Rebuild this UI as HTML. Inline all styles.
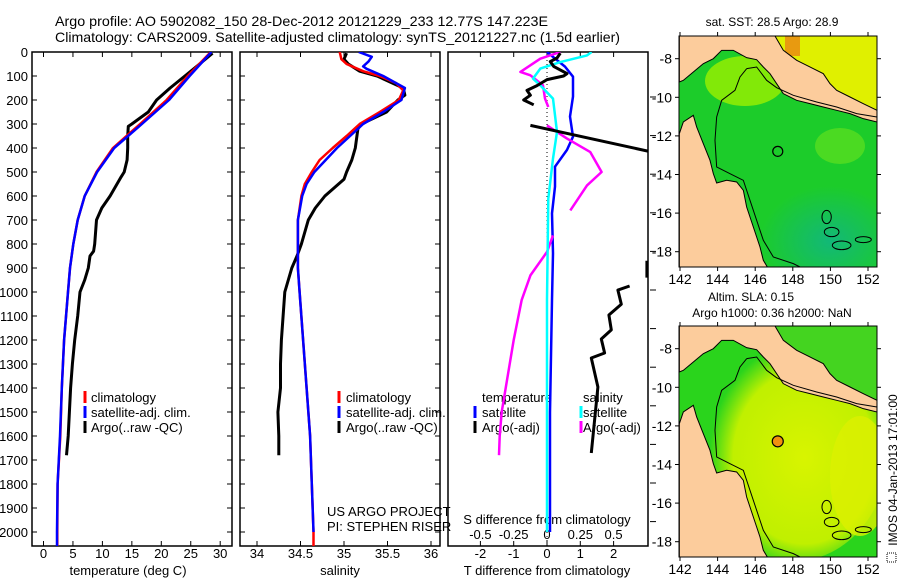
<!DOCTYPE html>
<html><head><meta charset="utf-8"><style>
html,body{margin:0;padding:0;background:#fff;}
svg{display:block;font-family:"Liberation Sans",sans-serif;}
</style></head><body>
<svg id="fig" width="900" height="580" viewBox="0 0 900 580" xmlns="http://www.w3.org/2000/svg">
<defs>
<clipPath id="c1"><rect x="32" y="52" width="200" height="494"/></clipPath>
<clipPath id="c2"><rect x="240" y="52" width="200" height="494"/></clipPath>
<clipPath id="c3"><rect x="448" y="52" width="200" height="494"/></clipPath>
<clipPath id="m1"><rect x="679" y="36" width="198" height="231"/></clipPath>
<clipPath id="m2"><rect x="679" y="326" width="198" height="231"/></clipPath>
<radialGradient id="g2" cx="0.55" cy="0.55" r="0.5"><stop offset="0" stop-color="#d8f400"/><stop offset="0.75" stop-color="#c0f000"/><stop offset="1" stop-color="#c0f000" stop-opacity="0"/></radialGradient>
<radialGradient id="g1" cx="0.5" cy="0.5" r="0.5"><stop offset="0" stop-color="#12b878"/><stop offset="1" stop-color="#12b878" stop-opacity="0"/></radialGradient>
</defs>
<g id="titles">
<text x="55" y="26" font-size="14" textLength="493" lengthAdjust="spacingAndGlyphs">Argo profile: AO 5902082_150 28-Dec-2012 20121229_233 12.77S 147.223E</text>
<text x="55" y="42" font-size="14" textLength="565" lengthAdjust="spacingAndGlyphs">Climatology: CARS2009. Satellite-adjusted climatology: synTS_20121227.nc (1.5d earlier)</text>
</g>
<g id="axes"></g>
<g id="series"></g>
<g id="maps"></g>
</svg>
<script>
// ---------- data ----------
const depthTicks = [0,100,200,300,400,500,600,700,800,900,1000,1100,1200,1300,1400,1500,1600,1700,1800,1900,2000];
const tempTicks = [0,5,10,15,20,25,30];
const salTicks = [34,34.5,35,35.5,36];
const salTickLabels = ["34","34.5","35","35.5","36"];
const dtTicks = [-2,-1,0,1,2];
const dsTicks = [-0.5,-0.25,0,0.25,0.5];
const dsTickLabels = ["-0.5","-0.25","0","0.25","0.5"];

const climDepth = [0,100,200,300,400,500,600,700,800,900,1000,1200,1400,1600,1800,2000,2060];
const climTemp  = [28.4,24.5,20.9,16.4,11.8,9.0,7.0,5.8,5.06,4.5,4.16,3.5,3.1,2.85,2.4,2.35,2.35];
const satTemp   = [28.5,24.8,21.3,16.7,12.0,9.1,7.0,5.8,5.06,4.5,4.16,3.5,3.1,2.8,2.4,2.3,2.3];

const argoTDepth = [5,50,100,150,200,250,300,310,350,400,450,500,520,600,650,700,800,830,850,900,950,1000,1100,1200,1300,1400,1500,1600,1680];
const argoTemp   = [28.7,26.5,24.0,21.5,19.2,17.8,15.0,14.4,14.3,14.3,14.2,13.7,13.2,11.3,9.9,9.0,8.7,8.5,7.9,7.6,7.0,6.2,5.8,5.3,4.9,4.6,4.4,4.2,3.9];

const salDepth = [0,30,50,80,100,130,160,200,250,300,350,400,450,500,550,600,700,800,900,1000,1400,1600,1800,2000,2060];
const climSal  = [34.95,34.97,35.03,35.22,35.41,35.6,35.68,35.63,35.41,35.18,35.03,34.87,34.72,34.63,34.55,34.51,34.47,34.47,34.47,34.49,34.57,34.61,34.63,34.65,34.65];
const satSalDepth = [0,20,40,60,70,100,150,200,250,300,400,500,550,600,700,800,900,1000,1400,1600,1800,2000];
const satSal      = [35.17,35.32,35.28,35.22,35.26,35.45,35.7,35.66,35.45,35.22,34.92,34.66,34.57,34.52,34.47,34.47,34.47,34.49,34.57,34.61,34.63,34.65];

const argoSDepth = [5,30,50,80,100,150,180,200,250,300,320,400,450,500,530,600,650,700,800,850,900,1000,1100,1200,1300,1400,1500,1600,1680];
const argoSal    = [35.03,35.0,35.05,35.18,35.38,35.68,35.7,35.62,35.49,35.2,35.16,35.13,35.09,35.03,35.0,34.78,34.67,34.59,34.51,34.46,34.4,34.32,34.3,34.28,34.27,34.27,34.24,34.25,34.25];

const satDTDepth = [0,61,103,186,269,353,408,478,561,672,839,1033,1500,2000];
const satDT      = [0,0.54,0.78,0.78,0.69,0.78,0.6,0.24,0.24,0.15,0.18,0.15,0.09,0.09];
const satDSDepth = [0,14,42,69,111,139,194,333,444,611,1033,1500,2000];
const satDS      = [0.335,0.3,0.1,-0.05,-0.105,-0.05,0.045,0.075,0.045,0.01,0,0,0];
const argoDSDepth = [0,28,83,97,139,194,229,null,306,361,417,500,556,660,null,764,833,931,1033,1200,1400,1500,1600,1680];
const argoDS      = [0.1,-0.05,-0.2,-0.125,-0.03,-0.015,0.01,null,0,0.15,0.325,0.41,0.3,0.175,null,0.045,0,-0.125,-0.19,-0.25,-0.31,-0.34,-0.355,-0.36];
const argoDTDepth = [5,25,40,60,90,100,115,140,160,180,200,220,null,306,413,450,null,870,940,null,975,992,1051,1096,1158,1196,1254,1275,1396,1671];
const argoDT      = [0.4,0.3,0.1,0.2,0.6,0.5,0.0,-0.3,-0.6,-0.5,-0.7,-0.4,null,-0.5,3.03,4.0,null,3.0,3.0,null,2.48,2.13,2.23,1.86,1.93,1.63,1.73,1.33,1.53,1.33];

// ---------- scales ----------
const yD = d => 52 + d*0.24;
const xT = t => 43.5 + t*5.89;
const xS = s => 257 + (s-34)*87;
const xDT = v => 547 + v*33.3;
const xDS = v => 547 + v*133.2;

const NS = "http://www.w3.org/2000/svg";
function mk(tag, attrs, parent){ const e=document.createElementNS(NS,tag); for(const k in attrs) e.setAttribute(k,attrs[k]); parent.appendChild(e); return e; }
const axes = document.getElementById('axes');
const series = document.getElementById('series');
const maps = document.getElementById('maps');

// ---------- panels ----------
const panelX = [32,240,448];
panelX.forEach((px,i)=>{
  const r = mk('rect',{x:px,y:52,width:200,height:494,fill:'none',stroke:'#000','stroke-width':1.5},axes);
  
  
  if(i<2){
    depthTicks.forEach(d=>{
      mk('line',{x1:px,x2:px+5,y1:yD(d),y2:yD(d),stroke:'#000'},axes);
      mk('line',{x1:px+195,x2:px+200,y1:yD(d),y2:yD(d),stroke:'#000'},axes);
    });
  }
});
depthTicks.forEach(d=>{
  const t = mk('text',{x:28,y:yD(d)+5,'font-size':13,'text-anchor':'end'},axes);
  t.textContent = d;
  
  
});
tempTicks.forEach(v=>{
  const x=xT(v);
  mk('line',{x1:x,x2:x,y1:52,y2:57,stroke:'#000'},axes);
  mk('line',{x1:x,x2:x,y1:541,y2:546,stroke:'#000'},axes);
  const t=mk('text',{x:x,y:558,'font-size':13,'text-anchor':'middle'},axes);
  t.textContent=v;
  
  
});
salTicks.forEach((v,i)=>{
  const x=xS(v);
  mk('line',{x1:x,x2:x,y1:52,y2:57,stroke:'#000'},axes);
  mk('line',{x1:x,x2:x,y1:541,y2:546,stroke:'#000'},axes);
  const t=mk('text',{x:x,y:558,'font-size':13,'text-anchor':'middle'},axes);
  t.textContent=salTickLabels[i];
  
  
});
dtTicks.forEach(v=>{
  const x=xDT(v);
  mk('line',{x1:x,x2:x,y1:52,y2:57,stroke:'#000'},axes);
  mk('line',{x1:x,x2:x,y1:541,y2:546,stroke:'#000'},axes);
  const t=mk('text',{x:x,y:558,'font-size':13,'text-anchor':'middle'},axes);
  t.textContent=v;
  
  
});
dsTicks.forEach((v,i)=>{
  const t=mk('text',{x:xDS(v),y:539,'font-size':13,'text-anchor':'middle'},axes);
  t.textContent=dsTickLabels[i];
  
  
});
for(let y=97;y<=545;y+=38.6){ mk('line',{x1:650,x2:656,y1:y,y2:y,stroke:'#000'},axes); }
const zl=mk('line',{x1:xDT(0),x2:xDT(0),y1:52,y2:546,stroke:'#000','stroke-dasharray':'1,3'},axes);



function label(x,y,txt,name,anchor,size){
  const t=mk('text',{x:x,y:y,'font-size':size||13,'text-anchor':anchor||'start'},axes);
  t.textContent=txt;
  
  
  return t;
}
label(128,575,'temperature (deg C)','x-axis-title-temperature','middle');
label(340,575,'salinity','x-axis-title-salinity','middle');
label(547,575,'T difference from climatology','x-axis-title-t-diff','middle');
label(547,524,'S difference from climatology','x-axis-title-s-diff','middle');
label(327,516,'US ARGO PROJECT','project-credit');
label(327,531,'PI: STEPHEN RISER','pi-credit');

function legendEntry(bx,tx,y,color,txt,name){
  const g=mk('g',{},axes);
  
  
  mk('line',{x1:bx,x2:bx,y1:y-11,y2:y+1,stroke:color,'stroke-width':3},g);
  const t=mk('text',{x:tx,y:y,'font-size':13},g); t.textContent=txt;
}
legendEntry(85,91,402,'#f00','climatology','legend-entry-climatology-t');
legendEntry(85,91,417,'#00f','satellite-adj. clim.','legend-entry-satellite-t');
legendEntry(85,91,432,'#000','Argo(..raw -QC)','legend-entry-argo-t');
legendEntry(339,346,402,'#f00','climatology','legend-entry-climatology-s');
legendEntry(339,346,417,'#00f','satellite-adj. clim.','legend-entry-satellite-s');
legendEntry(339,346,432,'#000','Argo(..raw -QC)','legend-entry-argo-s');
label(482,402,'temperature','legend-title-temperature');
label(583,402,'salinity','legend-title-salinity');
legendEntry(475,482,417,'#00f','satellite','legend-entry-satellite-dt');
legendEntry(475,482,432,'#000','Argo(-adj)','legend-entry-argo-dt');
legendEntry(581,583,417,'#0ff','satellite','legend-entry-satellite-ds');
legendEntry(581,583,432,'#f0f','Argo(-adj)','legend-entry-argo-ds');

// ---------- series ----------
function pathFrom(depths, vals, xf){
  let d='', pen=false;
  for(let i=0;i<depths.length;i++){
    if(depths[i]===null||vals[i]===null){pen=false;continue;}
    d += (pen?'L':'M') + xf(vals[i]).toFixed(1)+','+yD(depths[i]).toFixed(1);
    pen=true;
  }
  return d;
}
function drawSeries(depths, vals, xf, color, clip, name, w){
  const p=mk('path',{d:pathFrom(depths,vals,xf),fill:'none',stroke:color,'stroke-width':w||2.5,'stroke-linejoin':'round','clip-path':'url(#'+clip+')'},series);
  
  
}
drawSeries(argoTDepth,argoTemp,xT,'#000','c1','argo-temperature-line',3);
drawSeries(climDepth,climTemp,xT,'#f00','c1','climatology-temperature-line');
drawSeries(climDepth,satTemp,xT,'#00f','c1','satellite-temperature-line');
drawSeries(argoSDepth,argoSal,xS,'#000','c2','argo-salinity-line',3);
drawSeries(salDepth,climSal,xS,'#f00','c2','climatology-salinity-line');
drawSeries(satSalDepth,satSal,xS,'#00f','c2','satellite-salinity-line');
drawSeries(satDTDepth,satDT,xDT,'#00f','c3','satellite-t-diff-line');
drawSeries(argoDSDepth,argoDS,xDS,'#f0f','c3','argo-s-diff-line');
drawSeries(satDSDepth,satDS,xDS,'#0ff','c3','satellite-s-diff-line');
drawSeries(argoDTDepth,argoDT,xDT,'#000','c3','argo-t-diff-line',3);

// ---------- maps ----------
const landPNG = "88,107 375,107 400,150 440,180 470,195 520,220 540,250 560,270 600,290 640,310 681,330 681,365 640,355 600,340 560,330 520,320 480,310 440,300 400,280 380,250 360,220 340,200 320,178 290,172 250,150 215,150 190,175 160,190 130,215 100,240 88,245";
const landCY = "88,800 88,400 100,365 130,345 140,380 160,430 180,480 190,520 200,548 230,540 260,545 280,570 290,620 310,680 330,740 340,780 352,800";
const contour = "M290,205 L320,200 L350,240 L380,262 L430,285 L500,305 L560,320 L620,340 L681,350 M290,205 L270,230 L255,270 L215,300 L200,350 L195,420 L200,500 L240,520 L280,540 L300,600 L320,660 L340,720 L370,770 L430,790 L450,800";
const islands = [[530,650,14,20],[545,695,22,14],[575,735,28,13],[640,718,24,9]];
const lonTicks = [142,144,146,148,150,152];
const latTicks = [-8,-10,-12,-14,-16,-18];
const xLon = v => 680 + (v-142)*18.8;
const yLat = (v,top) => top + 22.7 - (v+8)*19.3;

function drawMap(top, which){
  const g=mk('g',{'clip-path':'url(#'+(which===1?'m1':'m2')+')'},maps);
  
  
  if(which===1){
    mk('rect',{x:679,y:top,width:198,height:231,fill:'#1ccc2a'},g);
    mk('ellipse',{cx:830,cy:top+205,rx:70,ry:55,fill:'url(#g1)'},g);
    mk('ellipse',{cx:745,cy:top+45,rx:40,ry:25,fill:'#9cf000',opacity:0.8},g);
    mk('polygon',{points:'775,'+top+' 877,'+top+' 877,'+(top+80)+' 820,'+(top+50)+' 790,'+(top+30),fill:'#e0f000'},g);
    mk('rect',{x:785,y:top,width:15,height:20,fill:'#e89a10'},g);
    mk('ellipse',{cx:840,cy:top+110,rx:25,ry:18,fill:'#60e020',opacity:0.7},g);
  } else {
    mk('rect',{x:679,y:top,width:198,height:231,fill:'#2ad41c'},g);
    mk('ellipse',{cx:795,cy:top+120,rx:95,ry:115,fill:'url(#g2)'},g);
    mk('ellipse',{cx:860,cy:top+150,rx:30,ry:60,fill:'#dcf000',opacity:0.8},g);
    mk('polygon',{points:'775,'+top+' 877,'+top+' 877,'+(top+80)+' 820,'+(top+50)+' 790,'+(top+30),fill:'#44d420'},g);
  }
  const lg=mk('g',{transform:'translate(650,'+top+') scale(0.3333) translate(0,-107)'},g);
  mk('polygon',{points:landPNG,fill:'#fccc9c',stroke:'#000','stroke-width':3},lg);
  mk('polygon',{points:landCY,fill:'#fccc9c',stroke:'#000','stroke-width':3},lg);
  mk('path',{d:contour,fill:'none',stroke:'#000','stroke-width':3},lg);
  islands.forEach(is=>{ mk('ellipse',{cx:is[0],cy:is[1],rx:is[2],ry:is[3],fill:'none',stroke:'#000','stroke-width':3},lg); });
  const fr=mk('rect',{x:679,y:top,width:198,height:231,fill:'none',stroke:'#000'},maps);
  
  
  lonTicks.forEach(v=>{
    const x=xLon(v);
    mk('line',{x1:x,x2:x,y1:top+231,y2:top+235,stroke:'#000'},maps);
    mk('line',{x1:x,x2:x,y1:top-4,y2:top,stroke:'#000'},maps);
    const t=mk('text',{x:x,y:top+248,'font-size':14,'text-anchor':'middle'},maps);
    t.textContent=v;
    
    
  });
  latTicks.forEach(v=>{
    const y=yLat(v,top);
    mk('line',{x1:675,x2:679,y1:y,y2:y,stroke:'#000'},maps);
    mk('line',{x1:877,x2:881,y1:y,y2:y,stroke:'#000'},maps);
    const t=mk('text',{x:672,y:y+5,'font-size':14,'text-anchor':'end'},maps);
    t.textContent=v;
    
    
  });
}
drawMap(36,1);
drawMap(326,2);
const floatLon = 147.2, floatLat = -12.8;
const c1=mk('circle',{cx:xLon(floatLon),cy:yLat(floatLat,36),r:5,fill:'none',stroke:'#000','stroke-width':1.2},maps);


const c2=mk('circle',{cx:xLon(floatLon),cy:yLat(floatLat,326),r:5.5,fill:'#f09010',stroke:'#000','stroke-width':1.2},maps);



function mlabel(x,y,txt,name,anchor){
  const t=mk('text',{x:x,y:y,'font-size':12,'text-anchor':anchor||'middle'},maps);
  t.textContent=txt;
  
  
}
mlabel(772,26,'sat. SST: 28.5 Argo: 28.9','sst-map-title');
mlabel(751,301,'Altim. SLA: 0.15','sla-map-title');
mlabel(772,317,'Argo h1000: 0.36 h2000: NaN','argo-height-title');
const vt=mk('text',{x:0,y:0,'font-size':12,'text-anchor':'middle',transform:'translate(897,470) rotate(-90)'},maps);
vt.textContent='IMOS 04-Jan-2013 17:01:00';


mk('rect',{x:887,y:553,width:9,height:9,fill:'none',stroke:'#000','stroke-dasharray':'1,1'},maps);
</script>
</body></html>
